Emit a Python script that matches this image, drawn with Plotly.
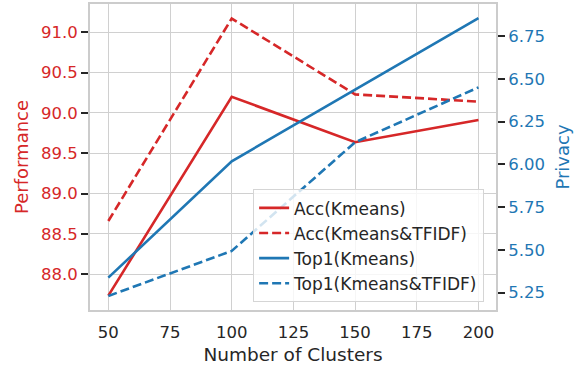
import plotly.graph_objects as go

clusters = [50, 100, 150, 200]
acc_kmeans = [87.735, 90.20, 89.636, 89.913]
acc_kmeans_tfidf = [88.66, 91.17, 90.23, 90.14]
top1_kmeans = [5.338, 6.018, 6.436, 6.854]
top1_kmeans_tfidf = [5.231, 5.494, 6.129, 6.45]

perf_ticks = [88.0, 88.5, 89.0, 89.5, 90.0, 90.5, 91.0]
priv_ticks = [5.25, 5.50, 5.75, 6.00, 6.25, 6.50, 6.75]
x_ticks = [50, 75, 100, 125, 150, 175, 200]

RED = "#d62728"
BLUE = "#1f77b4"
GRID = "#d0d0d0"
DASH = "9px,4px"
FONT = "DejaVu Sans"

fig = go.Figure()
fig.add_trace(go.Scatter(x=clusters, y=acc_kmeans, name="Acc(Kmeans)", mode="lines",
                         line=dict(color=RED, width=2.6), yaxis="y"))
fig.add_trace(go.Scatter(x=clusters, y=acc_kmeans_tfidf, name="Acc(Kmeans&TFIDF)", mode="lines",
                         line=dict(color=RED, width=2.6, dash=DASH), yaxis="y"))
fig.add_trace(go.Scatter(x=clusters, y=top1_kmeans, name="Top1(Kmeans)", mode="lines",
                         line=dict(color=BLUE, width=2.6), yaxis="y2"))
fig.add_trace(go.Scatter(x=clusters, y=top1_kmeans_tfidf, name="Top1(Kmeans&TFIDF)", mode="lines",
                         line=dict(color=BLUE, width=2.6, dash=DASH), yaxis="y2"))

fig.update_layout(
    width=581, height=368,
    margin=dict(l=90, r=85, t=4, b=58, autoexpand=False),
    paper_bgcolor="white", plot_bgcolor="white",
    font=dict(family=FONT, size=16.5, color="#262626"),
    xaxis=dict(
        range=[42.57, 207.1], tickvals=x_ticks, automargin=False,
        ticks="outside", ticklen=6, tickcolor="rgba(0,0,0,0)",
        showgrid=True, gridcolor=GRID, gridwidth=1.3,
        showline=True, linecolor="#cccccc", linewidth=2, mirror=True,
        zeroline=False,
        title=dict(text="Number of Clusters", font=dict(size=18.5, color="#262626"), standoff=7),
        tickfont=dict(size=16.5, color="#262626"),
    ),
    yaxis=dict(
        range=[87.557, 91.35], tickvals=perf_ticks, tickformat=".1f", automargin=False,
        ticks="outside", ticklen=7, tickwidth=1.6, tickcolor="#262626",
        showgrid=True, gridcolor=GRID, gridwidth=1.3,
        showline=True, linecolor="#cccccc", linewidth=2, mirror=True,
        zeroline=False,
        tickfont=dict(size=16.5, color=RED),
        title=dict(text="Performance", font=dict(size=18, color=RED), standoff=8),
    ),
    yaxis2=dict(
        range=[5.149, 6.937], tickvals=priv_ticks, tickformat=".2f", automargin=False,
        overlaying="y", side="right",
        ticks="outside", ticklen=7, tickwidth=1.6, tickcolor="#262626",
        showgrid=False, zeroline=False,
        showline=True, linecolor="#cccccc", linewidth=2,
        tickfont=dict(size=16.5, color=BLUE),
        title=dict(text="Privacy", font=dict(size=18, color=BLUE), standoff=12),
    ),
    legend=dict(
        x=0.97, y=0.026, xanchor="right", yanchor="bottom",
        bgcolor="rgba(255,255,255,0.8)", bordercolor="#d5d5d5", borderwidth=1.3,
        font=dict(size=17, color="#262626"),
        tracegroupgap=0,
    ),
    showlegend=True,
)

fig.write_html("out.html", config={"displayModeBar": False},
               post_script="document.body.style.margin='0';document.body.style.padding='0';")
